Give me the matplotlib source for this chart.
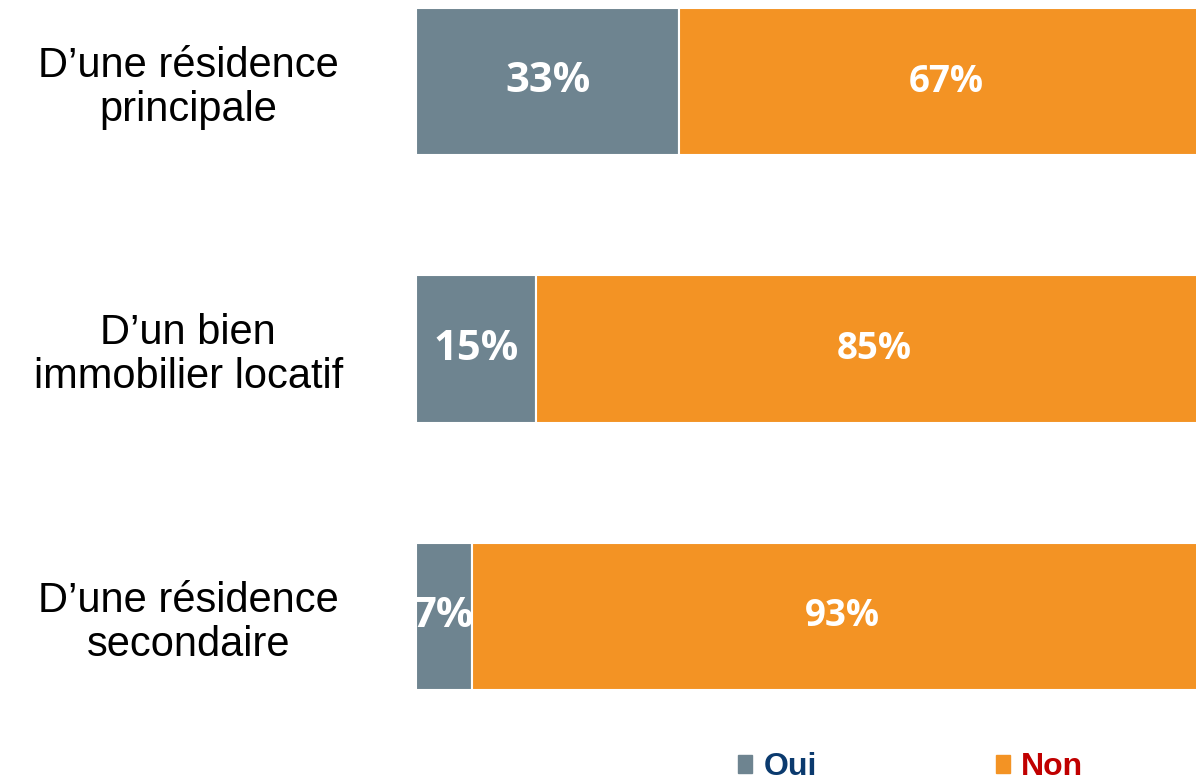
import matplotlib
matplotlib.use("Agg")
import matplotlib.pyplot as plt
from matplotlib.patches import Patch

categories = ["D’une résidence\nprincipale", "D’un bien\nimmobilier locatif", "D’une résidence\nsecondaire"]
oui = [33, 15, 7]
non = [67, 85, 93]
series_names = ["Oui", "Non"]

c_oui = "#6E8490"
c_non = "#F39324"

fig = plt.figure(figsize=(11.96, 7.83), dpi=100)
ax = fig.add_axes([416/1196, 1-690/783, 797/1196, 682/783])

h = 0.55
y = list(range(len(categories)))
b1 = ax.barh(y, oui, height=h, color=c_oui, edgecolor="white", linewidth=1.5)
b2 = ax.barh(y, non, left=oui, height=h, color=c_non, edgecolor="white", linewidth=1.5)

ax.bar_label(b1, labels=[f"{v}%" for v in oui], label_type="center", color="white",
             fontsize=30, fontweight="bold", family="Open Sans")
ax.bar_label(b2, labels=[f"{v}%" for v in non], label_type="center", color="white",
             fontsize=26.5, fontweight="bold", family="Open Sans")

ax.set_xlim(0, 100)
ax.set_ylim(len(categories) - 1 + h/2, -h/2)
ax.set_yticks(y)
ax.set_yticklabels(categories, ha="center", fontsize=30, family="Liberation Sans",
                   linespacing=1.12)
ax.tick_params(axis="y", length=0, pad=164)
ax.set_xticks([])
for s in ax.spines.values():
    s.set_visible(False)

handles = [Patch(color=c_oui), Patch(color=c_non)]
leg = fig.legend(handles, series_names, loc="lower left", bbox_to_anchor=(709/1196, -0.036),
                 ncol=2, frameon=False, handlelength=0.45, handleheight=0.45,
                 handletextpad=0.35, columnspacing=5.6,
                 prop={"family": "Liberation Sans", "weight": "bold", "size": 23})
leg.get_texts()[0].set_color("#0B3A6E")
leg.get_texts()[1].set_color("#C00000")

fig.savefig("out.png", dpi=100)
